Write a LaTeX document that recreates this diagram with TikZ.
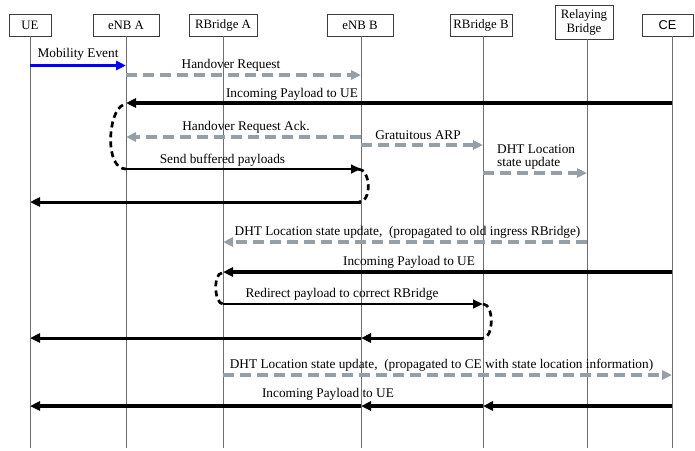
\documentclass[tikz,border=0pt]{standalone}
\usepackage{fontspec}
\setmainfont{Liberation Serif}
\newfontfamily\cesans{Liberation Sans}
\usetikzlibrary{arrows.meta,calc}
\definecolor{msggray}{RGB}{150,158,166}
\definecolor{linegray}{RGB}{110,110,110}
\definecolor{boxgray}{RGB}{60,60,60}
\definecolor{evblue}{RGB}{0,0,250}
\begin{document}
\begin{tikzpicture}[x=1pt,y=-1pt,
  head/.style={draw=boxgray, line width=0.9pt, minimum height=22pt, inner sep=0pt, font=\fontsize{12.8}{14}\selectfont},
  life/.style={draw=linegray, line width=1pt},
  lbl/.style={anchor=base, inner sep=0pt, font=\fontsize{13.3}{14}\selectfont},
  payload/.style={draw=black, line width=3.5pt, -{Triangle[length=10pt,width=9pt]}},
  thinpay/.style={draw=black, line width=2.4pt, -{Triangle[length=10pt,width=8.5pt]}},
  ctrl/.style={draw=msggray, line width=3.3pt, dash pattern=on 11pt off 6pt, -{Triangle[length=10pt,width=9pt]}},
  event/.style={draw=evblue, line width=3.2pt, -{Triangle[length=10pt,width=9pt]}},
  loopline/.style={draw=black, line width=2.7pt, dash pattern=on 6pt off 4pt},
]
\useasboundingbox (0,0) rectangle (695,450);

% heads
\node[head, minimum width=42pt] (ue) at (30,25) {UE};
\node[head, minimum width=66pt] (enba) at (126,25) {eNB A};
\node[head, minimum width=68pt] (rba) at (223,25) {RBridge A};
\node[head, minimum width=66pt] (enbb) at (360,25) {eNB B};
\node[head, minimum width=62pt] (rbb) at (481,25) {RBridge B};
\node[head, minimum width=58pt, minimum height=34pt, align=center, font=\fontsize{12.8}{14}\selectfont] (relb) at (584,22) {Relaying\\Bridge};
\node[head, minimum width=51pt, font=\cesans\fontsize{12.8}{14}\selectfont] (ce) at (667.5,25) {CE};

% lifeline x positions
\coordinate (ueL) at (30,36);
\coordinate (enbaL) at (126,36);
\coordinate (rbaL) at (223,36);
\coordinate (enbbL) at (361,36);
\coordinate (rbbL) at (483,36);
\coordinate (relbL) at (587,39);
\coordinate (ceL) at (672,36);
\coordinate (bot) at (0,448);

\foreach \l in {ueL,enbaL,rbaL,enbbL,rbbL,relbL,ceL}
  \draw[life] (\l) -- (\l |- bot);

% message rows
\coordinate (m1) at (0,65.5);
\coordinate (m2) at (0,75);
\coordinate (m3) at (0,103);
\coordinate (m4) at (0,137);
\coordinate (m5) at (0,145);
\coordinate (m6) at (0,173);
\coordinate (m7) at (0,169);
\coordinate (m8) at (0,202);
\coordinate (m9) at (0,242);
\coordinate (m10) at (0,272);
\coordinate (m11) at (0,304);
\coordinate (m12) at (0,338);
\coordinate (m13) at (0,375);
\coordinate (m14) at (0,406);

% messages
\draw[event] (ueL |- m1) -- (enbaL |- m1);
\draw[ctrl] (enbaL |- m2) -- (enbbL |- m2);
\draw[payload] (ceL |- m3) -- (enbaL |- m3);
\draw[ctrl] (enbbL |- m4) -- (enbaL |- m4);
\draw[ctrl] (enbbL |- m5) -- (rbbL |- m5);
\draw[ctrl] (rbbL |- m6) -- (relbL |- m6);
\draw[thinpay] (enbaL |- m7) -- (enbbL |- m7);
\draw[payload, line width=3pt] (enbbL |- m8) -- (ueL |- m8);
\draw[ctrl] (relbL |- m9) -- (rbaL |- m9);
\draw[payload] (ceL |- m10) -- (rbaL |- m10);
\draw[thinpay] (rbaL |- m11) -- (rbbL |- m11);
\draw[payload, line width=3pt] (rbbL |- m12) -- (enbbL |- m12);
\draw[payload, line width=3pt] (enbbL |- m12) -- (ueL |- m12);
\draw[ctrl] (rbaL |- m13) -- (ceL |- m13);
\draw[payload] (ceL |- m14) -- (rbbL |- m14);
\draw[payload] (rbbL |- m14) -- (enbbL |- m14);
\draw[payload] (enbbL |- m14) -- (ueL |- m14);

% dashed loops
\draw[loopline] ($(enbaL |- m3)+(-3,2)$) .. controls +(-15,6) and +(-22,0) .. (enbaL |- m7);
\draw[loopline] ($(enbbL |- m7)+(-3,0)$) .. controls +(13,0) and +(13,0) .. ($(enbbL |- m8)+(-2,0)$);
\draw[loopline] ($(rbaL |- m10)+(-1,1)$) .. controls +(-9,0) and +(-9,0) .. (rbaL |- m11);
\draw[loopline] (rbbL |- m11) .. controls +(11,0) and +(11,0) .. (rbbL |- m12);

% labels
\node[lbl] (t1) at (78,57) {Mobility Event};
\node[lbl] (t2) at (231,68) {Handover Request};
\node[lbl] (t3) at (292,97) {Incoming Payload to UE};
\node[lbl] (t4) at (246,130.5) {Handover Request Ack.};
\node[lbl] (t5) at (418,139) {Gratuitous ARP};
\node[lbl, anchor=base west] (t6a) at (497,153) {DHT Location};
\node[lbl, anchor=base west] (t6b) at (497,166) {state update};
\node[lbl] (t7) at (222.5,163) {Send buffered payloads};
\node[lbl] (t9) at (407.5,235) {DHT Location state update,\ \ (propagated to old ingress RBridge)};
\node[lbl] (t10) at (409,265.5) {Incoming Payload to UE};
\node[lbl] (t11) at (342,297) {Redirect payload to correct RBridge};
\node[lbl] (t13) at (441.5,368) {DHT Location state update,\ \ (propagated to CE with state location information)};
\node[lbl] (t14) at (328,397.5) {Incoming Payload to UE};
\end{tikzpicture}
\end{document}
